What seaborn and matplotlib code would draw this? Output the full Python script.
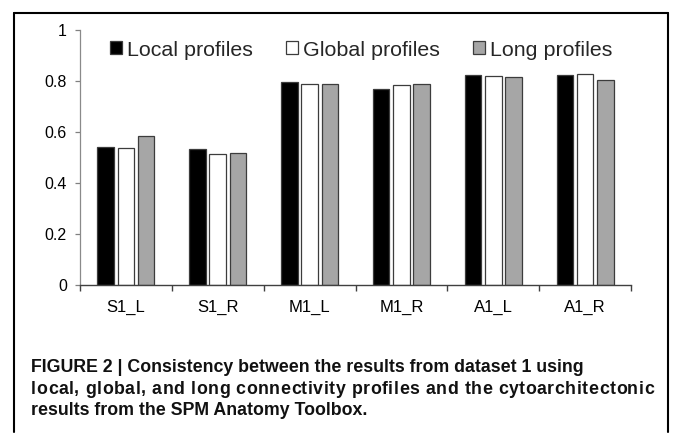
import matplotlib
matplotlib.use("Agg")
import matplotlib.pyplot as plt
import seaborn as sns
import pandas as pd
from matplotlib.lines import Line2D
from matplotlib.patches import Patch
from matplotlib.font_manager import FontProperties, findfont
from matplotlib.ft2font import FT2Font

regions = ["S1_L", "S1_R", "M1_L", "M1_R", "A1_L", "A1_R"]
series_names = ["Local profiles", "Global profiles", "Long profiles"]
local_vals = [0.540, 0.533, 0.795, 0.770, 0.822, 0.824]
global_vals = [0.538, 0.512, 0.789, 0.784, 0.820, 0.827]
long_vals = [0.585, 0.518, 0.789, 0.787, 0.817, 0.805]
y_ticks = [0, 0.2, 0.4, 0.6, 0.8, 1]
y_tick_labels = ["0", "0.2", "0.4", "0.6", "0.8", "1"]
caption_lines = [
    "FIGURE 2 | Consistency between the results from dataset 1 using",
    "local, global, and long connectivity profiles and the cytoarchitectonic",
    "results from the SPM Anatomy Toolbox.",
]

rows = []
for name, vals in zip(series_names, [local_vals, global_vals, long_vals]):
    for r, v in zip(regions, vals):
        rows.append({"region": r, "profile": name, "value": v})
df = pd.DataFrame(rows)

sns.set_style("white")
plt.rcParams["font.family"] = ["Liberation Sans", "DejaVu Sans"]

W, H = 673, 433
DPI = 100
fig = plt.figure(figsize=(W / DPI, H / DPI), dpi=DPI)
ax = fig.add_axes([80 / W, 1 - 285 / H, (631 - 80) / W, (285 - 30) / H])

colors = ["#000000", "#ffffff", "#a6a6a6"]
sns.barplot(data=df, x="region", y="value", hue="profile", order=regions,
            hue_order=series_names, palette=colors, width=0.66, gap=0.18,
            edgecolor="#3c3c3c", linewidth=0.9, saturation=1, ax=ax,
            errorbar=None)

ax.set_xlim(-0.5, len(regions) - 0.5)
ax.set_ylim(0, 1)
ax.set_xlabel("")
ax.set_ylabel("")
ax.set_yticks(y_ticks)
ax.set_yticklabels(y_tick_labels, fontsize=11.5)
ax.set_xticks(range(len(regions)))
ax.set_xticklabels(regions, fontsize=12)
ax.set_xticks([i - 0.5 for i in range(len(regions) + 1)], minor=True)
ax.tick_params(axis="x", which="major", length=0, pad=10.5, colors="black")
ax.tick_params(axis="x", which="minor", length=4, width=1, color="#404040",
               direction="out", bottom=True)
ax.tick_params(axis="y", which="major", length=3.5, width=0.9, color="#808080",
               direction="out", left=True, pad=6, labelcolor="black")

for s in ["top", "right"]:
    ax.spines[s].set_visible(False)
ax.spines["left"].set_color("#8a8a8a")
ax.spines["left"].set_linewidth(0.9)
ax.spines["bottom"].set_color("#404040")
ax.spines["bottom"].set_linewidth(1.0)
ax.grid(False)

leg = ax.get_legend()
if leg is not None:
    leg.remove()
handles = [Patch(facecolor=c, edgecolor="#3c3c3c", linewidth=0.9) for c in colors]
ax.legend(handles, series_names, ncol=3, frameon=False, fontsize=15.4,
          loc="center left", bbox_to_anchor=(110 / W, 1 - 50 / H),
          bbox_transform=fig.transFigure, borderpad=0, borderaxespad=0,
          handlelength=0.55, handleheight=0.55, handletextpad=0.25,
          columnspacing=1.55)

# figure frame (left, top, right)
lw = 1.5
fig.add_artist(Line2D([14 / W, 14 / W], [1 - 12.5 / H, 0.003], color="black",
                      lw=lw, transform=fig.transFigure))
fig.add_artist(Line2D([14 / W, 668 / W], [1 - 12.5 / H, 1 - 12.5 / H], color="black",
                      lw=lw, transform=fig.transFigure))
fig.add_artist(Line2D([668 / W, 668 / W], [1 - 12.5 / H, 0.003], color="black",
                      lw=lw, transform=fig.transFigure))

# caption; the middle line is justified (letter-spaced) to the right margin
cap_size = 12.8
cap_kw = dict(fontsize=cap_size, fontweight="bold", va="baseline", ha="left",
              color="#111111")
baselines = [372, 393.5, 415]
left_px, right_px = 31, 654

font = FT2Font(findfont(FontProperties(family="Liberation Sans", weight="bold")))
font.set_size(cap_size, DPI)


def advance(ch):
    g = font.load_char(ord(ch))
    return g.linearHoriAdvance / 65536


for idx, (line, b) in enumerate(zip(caption_lines, baselines)):
    y = 1 - b / H
    if idx != 1:
        fig.text(left_px / W, y, line, **cap_kw)
        continue
    advs = [advance(c) for c in line]
    natural = sum(advs[:-1])
    last_w = advs[-1]
    extra = (right_px - left_px - last_w - natural) / (len(line) - 1)
    x = left_px
    for c, a in zip(line, advs):
        if c != " ":
            fig.text(x / W, y, c, **cap_kw)
        x += a + extra

fig.savefig("out.png", dpi=DPI)
